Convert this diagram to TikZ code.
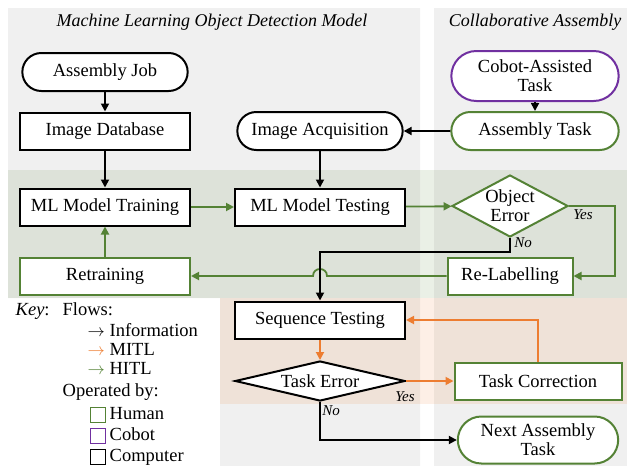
\documentclass[tikz,border=0pt]{standalone}
\usepackage{fontspec}
\setmainfont{Liberation Serif}
\usetikzlibrary{arrows.meta,shapes.geometric,shapes.misc,calc}
\definecolor{hgreen}{RGB}{84,130,53}
\definecolor{morange}{RGB}{237,125,49}
\definecolor{cpurple}{RGB}{112,48,160}
\definecolor{panelgray}{RGB}{240,240,240}
\begin{document}
\begin{tikzpicture}[x=1pt,y=-1pt,
  font=\fontsize{18.5}{19}\selectfont,
  box/.style={draw, line width=2pt, fill=white, minimum width=170pt, minimum height=37pt, inner sep=2pt},
  term/.style={rounded rectangle, draw, line width=2pt, fill=white, minimum width=172pt, minimum height=38pt, align=center},
  dec/.style={diamond, draw, line width=2pt, fill=white, inner sep=0pt, align=center},
  arr/.style={line width=1.8pt, -{Triangle[length=8pt,width=8pt]}},
  lbl/.style={font=\fontsize{15}{16}\selectfont\itshape},
  ttl/.style={font=\fontsize{18}{20}\selectfont\itshape},
  keytxt/.style={anchor=west, inner sep=0.5pt, text height=12pt, text depth=3pt, font=\fontsize{18.5}{19}\selectfont},
  keysq/.style={draw, line width=1.8pt, minimum size=15pt, inner sep=0pt},
]
\useasboundingbox (0,0) rectangle (627,466);
% backgrounds
\fill[panelgray] (8,8) -- (420,8) -- (420,466) -- (220,466) -- (220,298) -- (8,298) -- cycle;
\fill[panelgray] (434,8) rectangle (627,466);
\fill[hgreen, opacity=0.12] (8,170) rectangle (627,298);
\fill[morange, opacity=0.12] (220,298) rectangle (627,404);
% titles
\node[ttl] (t1) at (212,22) {Machine Learning Object Detection Model};
\node[ttl] (t2) at (535,22) {Collaborative Assembly};
% nodes
\node[term] (job) at (105,72) {Assembly Job};
\node[box] (db) at (105,131) {Image Database};
\node[term] (acq) at (320,131) {Image Acquisition};
\node[term, draw=cpurple, minimum width=174pt, minimum height=50pt] (cobot) at (535,76) {Cobot-Assisted\\Task};
\node[term, draw=hgreen, minimum width=174pt] (atask) at (535,131) {Assembly Task};
\node[box] (train) at (105,207) {ML Model Training};
\node[box] (test) at (320,207) {ML Model Testing};
\node[dec, draw=hgreen, minimum width=116pt, minimum height=62pt, shape aspect=1.9] (objerr) at (510,206) {Object\\Error};
\node[box, draw=hgreen, minimum width=125pt] (relab) at (510,276) {Re-Labelling};
\node[box, draw=hgreen] (retrain) at (105,276) {Retraining};
\node[box] (seq) at (320,320) {Sequence Testing};
\node[dec, minimum width=170pt, minimum height=40pt, shape aspect=4.25] (taskerr) at (320,381) {Task Error};
\node[box, draw=hgreen, minimum width=167pt] (tcorr) at (538,381) {Task Correction};
\node[term, draw=hgreen, minimum width=167pt, minimum height=47pt] (next) at (538,440) {Next Assembly\\Task};
% connectors
\draw[arr] (job) -- (db);
\draw[arr] (db) -- (train);
\draw[arr] (acq) -- (test);
\draw[arr] (cobot) -- (atask);
\draw[arr] (atask) -- (acq);
\draw[arr, hgreen] (train) -- (test);
\draw[arr, hgreen] (test) -- (objerr);
\draw[arr, hgreen] (objerr.east) -- ++(46,0) |- (relab.east);
\draw[arr, hgreen] (retrain) -- (train);
\coordinate (hop) at (seq.north |- relab.west);
\draw[arr, hgreen] (relab.west) -- ($(hop)+(7,0)$) .. controls ($(hop)+(7,-9.3)$) and ($(hop)+(-7,-9.3)$) .. ($(hop)+(-7,0)$) -- (retrain.east);
\draw[arr] (objerr.south) -- ++(0,14) -| (seq.north);
\node[lbl] (yes1) at (583,215) {Yes};
\node[lbl] (no1) at (523,243) {No};
\draw[arr, morange] (seq) -- (taskerr);
\draw[arr, morange] (taskerr.east) -- (tcorr.west);
\draw[arr, morange] (tcorr.north) |- (seq.east);
\draw[arr] (taskerr.south) |- (next.west);
\node[lbl] (yes2) at (405,397) {Yes};
\node[lbl] (no2) at (331,411) {No};
% key
\node[keytxt] (key) at (15,311) {\textit{Key}:};
\node[keytxt] (flows) at (62,311) {Flows:};
\node[keytxt] (kinfo) at (87,332) {$\rightarrow$ Information};
\node[keytxt] (kmitl) at (87,351) {\textcolor{morange}{$\rightarrow$} MITL};
\node[keytxt] (khitl) at (87,370) {\textcolor{hgreen}{$\rightarrow$} HITL};
\node[keytxt] (oper) at (62,392) {Operated by:};
\node[keysq, draw=hgreen] (sqh) at (98,415) {};
\node[keysq, draw=cpurple] (sqc) at (98,436) {};
\node[keysq, draw=black] (sqp) at (98,457) {};
\node[keytxt] (lh) at (109,415) {Human};
\node[keytxt] (lc) at (109,436) {Cobot};
\node[keytxt] (lp) at (109,457) {Computer};
\end{tikzpicture}
\end{document}
